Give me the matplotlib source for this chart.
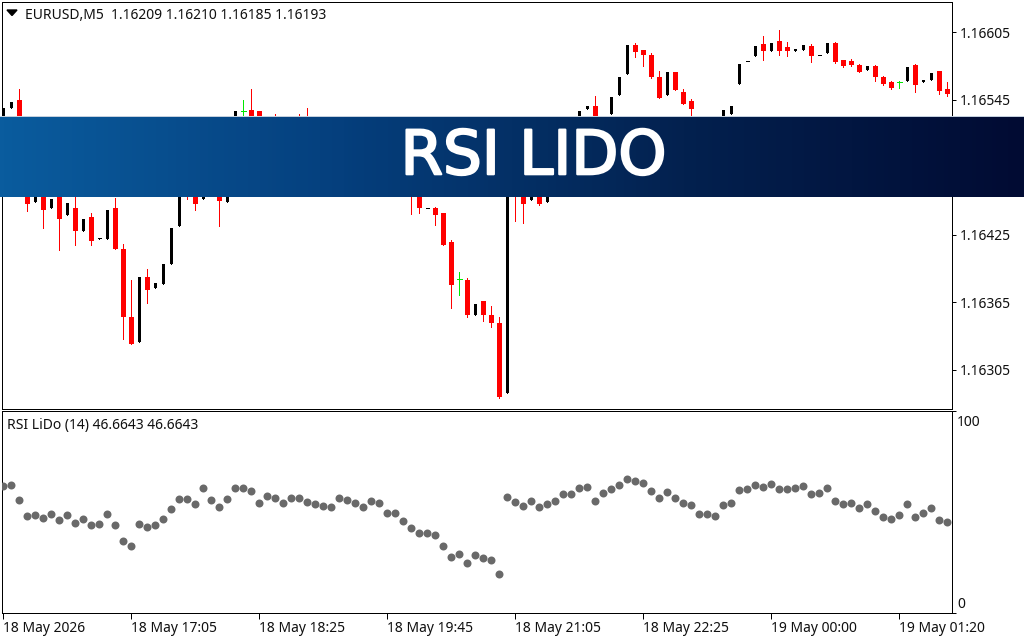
#!/usr/bin/env python3
# -*- coding: utf-8 -*-
"""EURUSD M5 candles with the RSI LiDo dots below and a title banner across."""

import numpy as np
import matplotlib
matplotlib.use("Agg")
import matplotlib.pyplot as plt
import matplotlib.patheffects as pe
from matplotlib.colors import LinearSegmentedColormap

W, H = 1024, 640
BASE = 1.16  # candle values below are in points above this price
POINT = 0.00001

# candles hidden behind the banner are estimated
opens = [522.7, 537.8, 544.9, 490, 454.1, 470, 448.8, 480, 442.6, 448.8,
         428.3, 440.8, 421.6, 421.2, 448.8, 412.3, 351.8, 329.5, 387.4, 377.6,
         381.1, 398.9, 432.8, 480, 470, 456.8, 475, 470, 454.1, 510,
         535.1, 536, 535.1, 520, 525, 510, 525, 520, 525, 505,
         515, 500, 510, 495, 486, 498, 482, 474, 488, 476,
         486, 470, 460, 448.4, 448.8, 444.3, 418.5, 385.6, 384.7, 353.6,
         366, 353.6, 346.4, 284, 480, 470, 455.9, 468, 454.1, 470,
         495, 485, 515, 536.9, 539.6, 525, 532.4, 549.4, 568, 593.9,
         589.4, 584.9, 565.4, 549.4, 569.8, 552, 544, 528, 505, 522,
         515, 532.4, 559.1, 579.2, 584.1, 594.7, 588.5, 597.4, 592.1, 588.5,
         589.4, 593, 584.5, 586.7, 595.6, 580.5, 579.6, 576.1, 571.6, 575.2,
         565.4, 560.9, 560.9, 561.8, 576.1, 560.9, 562.7, 570.7, 554.7]
highs = [537.8, 543.1, 554.7, 495, 465, 475, 456.8, 486, 453.2, 470,
         439, 444.3, 422.1, 447, 457.7, 416.7, 384.7, 387.4, 394.5, 382,
         398.9, 431, 475, 484, 476, 470, 480, 476, 480, 535.1,
         544.9, 554.7, 535.1, 528, 532.4, 522, 529, 532.4, 537.8, 515,
         520, 510, 515, 500, 498, 503, 488, 488, 492, 486,
         490, 476, 465, 448.8, 449.7, 444.3, 420.3, 391.8, 386.5, 363.3,
         366, 361.6, 351.8, 480, 486, 476, 470, 472, 472, 490,
         500, 510, 535.1, 539.6, 548.5, 529, 547.6, 565.4, 593.9, 595.6,
         589.4, 586.7, 570.7, 569.8, 569.8, 554.7, 545.8, 530, 520, 527,
         536, 539.6, 577, 579.6, 593, 601.9, 595.6, 607.2, 596.5, 590.3,
         593.9, 594.7, 584.9, 595.6, 596.5, 580.5, 581.4, 577, 575.2, 576.1,
         566.3, 561.8, 561.8, 574.3, 577, 562.7, 568.9, 570.7, 560.9]
lows = [522.7, 537.8, 510, 446.1, 454.1, 431, 448.8, 411.4, 442.6, 415.9,
        428.3, 415.9, 421.6, 421.2, 412.3, 332.2, 327.7, 329.5, 364.2, 377.6,
        381.1, 398.9, 432.8, 456.8, 447, 456.8, 462, 432.8, 454.1, 510,
        515, 505, 505, 505, 505, 510, 500, 505, 500, 505,
        495, 500, 490, 482, 486, 478, 470, 474, 472, 476,
        465, 443.4, 444.3, 448.4, 433.6, 415.9, 359.8, 371.5, 351.8, 353.6,
        348.2, 342.9, 279.7, 284, 437.2, 435.4, 455.9, 451.5, 454.1, 470,
        480, 485, 515, 536.9, 515, 510, 532.4, 549.4, 568, 583.2,
        575.2, 564.5, 546.7, 549.4, 553.8, 541.3, 520, 505, 505, 505,
        515, 532.4, 559.1, 579.2, 584.1, 580.5, 588.5, 584.9, 584.1, 588.5,
        589.4, 578.7, 584.5, 586.7, 577.8, 574.3, 575.2, 569.8, 571.6, 561.8,
        558.3, 554.7, 555.6, 561.8, 552, 560.9, 562.7, 550.2, 548.5]
closes = [537.8, 543.1, 518, 452.3, 465, 447, 456.8, 439, 453.2, 428.3,
          439, 419.4, 422.1, 447, 412.3, 351.8, 327.7, 387.4, 375.8, 382,
          398.9, 431, 475, 465, 452.3, 470, 466, 455, 480, 535.1,
          535.1, 512, 510, 512, 515, 522, 510, 510, 505, 515,
          500, 510, 495, 486, 498, 482, 474, 488, 476, 486,
          470, 460, 448.8, 448.8, 442.6, 415.9, 380.3, 385.6, 353.6, 363.3,
          353.6, 346.4, 280.6, 480, 465, 452.3, 470, 452.3, 472, 490,
          485, 510, 535.1, 539.6, 520, 515, 547.6, 565.4, 593.9, 587.6,
          584.9, 565.4, 546.7, 569.8, 553.8, 541.3, 536.9, 510, 520, 510,
          536, 539.6, 577, 579.6, 593, 588.5, 595.6, 588.5, 588.5, 590.3,
          593.9, 584.1, 584.9, 595.6, 578.7, 575.2, 576.1, 569.8, 575.2, 565.4,
          559.1, 555.6, 560.9, 574.3, 558.3, 562.7, 568.9, 552.9, 550.2]

rsi = [63.0, 63.5, 56.1, 48.2, 48.7, 47.2, 49.2, 46.2, 48.7, 44.7,
       46.7, 43.7, 44.2, 49.2, 43.7, 35.8, 33.3, 44.2, 42.7, 43.7,
       46.7, 51.7, 56.6, 56.6, 54.1, 62.0, 56.1, 52.6, 56.6, 62.0,
       62.0, 60.6, 54.6, 58.1, 57.1, 54.6, 57.1, 57.1, 55.1, 54.1,
       53.1, 52.6, 57.1, 56.1, 54.6, 52.6, 55.6, 54.6, 49.7, 49.7,
       45.7, 42.2, 39.8, 39.8, 38.8, 33.3, 27.9, 29.4, 24.9, 28.9,
       27.4, 26.4, 19.5, 57.6, 55.1, 53.1, 55.6, 52.6, 54.1, 55.6,
       59.1, 59.1, 62.0, 62.5, 55.6, 59.6, 61.6, 63.5, 66.5, 65.5,
       64.5, 60.6, 57.1, 60.1, 57.1, 54.6, 53.6, 49.2, 49.2, 48.2,
       53.6, 54.6, 61.1, 61.6, 63.5, 62.5, 64.0, 61.6, 61.6, 62.0,
       63.0, 59.1, 59.6, 62.0, 55.6, 54.1, 54.6, 52.1, 54.1, 50.7,
       47.7, 46.7, 48.7, 54.1, 47.7, 49.7, 52.1, 46.2, 45.2]

price_ticks = [1.16605, 1.16545, 1.16485, 1.16425, 1.16365, 1.16305]
time_positions = [0, 16, 32, 48, 64, 80, 96, 112]
time_labels = ["18 May 2026", "18 May 17:05", "18 May 18:25", "18 May 19:45",
               "18 May 21:05", "18 May 22:25", "19 May 00:00", "19 May 01:20"]
main_title = "EURUSD,M5  1.16209 1.16210 1.16185 1.16193"
rsi_title = "RSI LiDo (14) 46.6643 46.6643"
banner_title = "RSI LIDO"
banner_stops = ["#0a5c9e", "#053f7d", "#03214f", "#010b33"]

FONT = ["Noto Sans", "DejaVu Sans"]
TEXT = "#101010"
FS = 10
RED = "#ff0000"
BLACK = "#000000"
GREEN = "#00e800"
DOT = "#696969"
PX = 72.0 / 100  # one pixel in points

# frame edges in pixels, a little under .5 so the spines snap to the right row
LEFT, RIGHT = 2.2, 952.2
MAIN_TOP, MAIN_BOTTOM = 2.2, 409.2
RSI_TOP, RSI_BOTTOM = 411.2, 613.2


def px_axes(fig, left, top, right, bottom, **kw):
    return fig.add_axes([left / W, 1 - bottom / H, (right - left) / W, (bottom - top) / H], **kw)


def draw_candles(ax):
    o, h, l, c = [np.array(a) * POINT + BASE for a in (opens, highs, lows, closes)]
    for i in range(len(o)):
        flat = abs(o[i] - c[i]) < 0.6 * POINT
        if o[i] == c[i]:
            col = GREEN
        elif c[i] < o[i]:
            col = RED
        else:
            col = BLACK
        width = 0.375 if col == BLACK else 0.625
        ax.vlines(i, l[i], h[i], color=col, lw=PX, antialiased=False, zorder=2)
        if flat:
            ax.hlines(c[i], i - width / 2, i + width / 2, color=col, lw=PX, antialiased=False, zorder=3)
        else:
            ax.bar(i, abs(c[i] - o[i]), width=width, bottom=min(o[i], c[i]),
                   color=col, linewidth=0, antialiased=False, zorder=3)


plt.rcParams["font.family"] = FONT
fig = plt.figure(figsize=(W / 100, H / 100), dpi=100, facecolor="white")

xlim = ((LEFT - 3) / 8, (RIGHT - 3) / 8)

ax = px_axes(fig, LEFT, MAIN_TOP, RIGHT, MAIN_BOTTOM)
draw_candles(ax)
ax.set_xlim(*xlim)
ax.set_ylim(BASE + 269.7 * POINT, BASE + 631.9 * POINT)
ax.set_xticks([])
ax.yaxis.tick_right()
ax.set_yticks(price_ticks)
ax.set_yticklabels([f"{p:.5f}" for p in price_ticks])
ax.tick_params(axis="y", length=3, width=PX, pad=2.5, labelsize=FS, labelcolor=TEXT)
fig.text(25 / W, 1 - 15.5 / H, main_title, fontsize=FS, va="center", ha="left", color=TEXT)
fig.add_artist(plt.Polygon([[7 / W, 1 - 10 / H], [17 / W, 1 - 10 / H], [12 / W, 1 - 15.5 / H]],
                           closed=True, color=BLACK, transform=fig.transFigure))

ax2 = px_axes(fig, LEFT, RSI_TOP, RIGHT, RSI_BOTTOM)
ax2.scatter(np.arange(len(rsi)), rsi, s=(8 * PX) ** 2, color=DOT, linewidths=0, zorder=3)
ax2.set_xlim(*xlim)
ax2.set_ylim(0, 100)
ax2.yaxis.tick_right()
ax2.set_yticks([0, 100])
ax2.set_yticklabels([])
ax2.set_xticks(time_positions)
ax2.set_xticklabels(time_labels, ha="left")
ax2.tick_params(axis="y", length=3, width=PX)
ax2.tick_params(axis="x", length=4, width=PX, pad=1.5, labelsize=FS, labelcolor=TEXT)
fig.text(957 / W, 1 - 423 / H, "100", fontsize=FS, va="center", ha="left", color=TEXT)
fig.text(957 / W, 1 - 605 / H, "0", fontsize=FS, va="center", ha="left", color=TEXT)
fig.text(7 / W, 1 - 425.5 / H, rsi_title, fontsize=FS, va="center", ha="left", color=TEXT)

for a in (ax, ax2):
    for s in a.spines.values():
        s.set_linewidth(PX)
        s.set_color(BLACK)

# banner over everything
bn = px_axes(fig, 0, 116, W, 197, zorder=10)
cmap = LinearSegmentedColormap.from_list("banner", banner_stops)
bn.imshow(np.linspace(0, 1, W).reshape(1, -1), aspect="auto", cmap=cmap, extent=(0, W, 0, 1))
bn.set_axis_off()
bn.text(533.5, 0.485, banner_title, color="white", fontsize=44, family=["DejaVu Sans"],
        ha="center", va="center",
        path_effects=[pe.withStroke(linewidth=1.6, foreground="white")])
fig.add_artist(plt.Line2D([0, 1], [1 - 115.5 / H] * 2, color="#c4d0de", lw=PX, zorder=11))

fig.savefig("out.png", dpi=100)
